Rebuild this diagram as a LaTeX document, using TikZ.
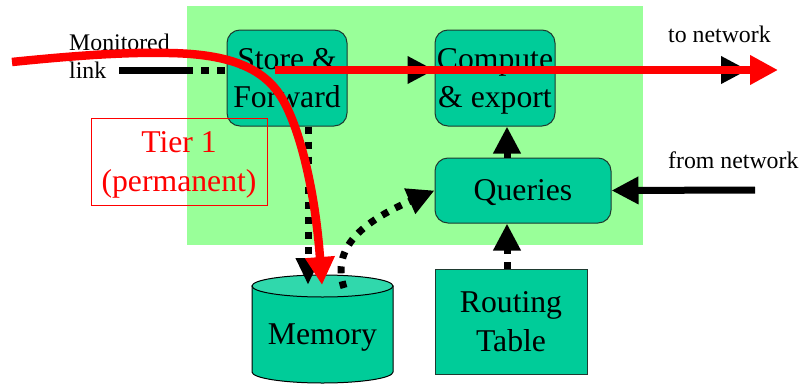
\documentclass[tikz,border=0pt]{standalone}
\usepackage{fontspec}
\setmainfont{Liberation Serif}
\newfontfamily\timesfam{Liberation Serif}
\usetikzlibrary{arrows.meta}
\definecolor{bggreen}{HTML}{99FF99}
\definecolor{boxgreen}{HTML}{00CC99}
\definecolor{topgreen}{HTML}{30D8AC}
\definecolor{boxline}{HTML}{1E3A30}
\begin{document}
\begin{tikzpicture}[x=1pt,y=-1pt,
  box/.style={draw=boxline, line width=1pt, fill=boxgreen, rounded corners=13pt,
    align=center, font=\timesfam\fontsize{31.7}{38.5}\selectfont, inner sep=0pt, text depth=0pt},
  lbl/.style={font=\timesfam\fontsize{23.8}{28}\selectfont, anchor=base west, inner sep=0pt},
  bigtext/.style={font=\timesfam\fontsize{31.7}{38.5}\selectfont, inner sep=0pt, align=center},
  dotline/.style={line width=7pt, dash pattern=on 7pt off 8pt},
  solidline/.style={line width=7pt},
  redline/.style={line width=8.5pt, draw=red},
  btip/.style={-{Triangle[length=27pt,width=26pt]}},
  rtip/.style={-{Triangle[length=28pt,width=28pt]}}]
\useasboundingbox (0,0) rectangle (803,383);
% background region
\fill[bggreen] (187,6) rectangle (643,245);
% boxes
\node[box, minimum width=120pt, minimum height=96pt] (store) at (287,78) {Store \&\\Forward};
\node[box, minimum width=120pt, minimum height=96pt] (compute) at (495,78) {Compute\\\& export};
\node[box, minimum width=176pt, minimum height=65pt] (queries) at (523,190.5) {Queries};
\node[box, sharp corners, minimum width=152pt, minimum height=105pt] (routing) at (511,321.5) {Routing\\Table};
% memory cylinder
\filldraw[fill=boxgreen, draw=black, line width=1pt]
  (252,286) -- (252,372) arc[start angle=180, end angle=360, x radius=70.5pt, y radius=11pt] -- (393,286) -- cycle;
\filldraw[fill=topgreen, draw=black, line width=1pt] (322.5,286) ellipse [x radius=70.5pt, y radius=11pt];
\node[bigtext, anchor=base] (memory) at (322.5,344) {Memory};
% tier box
\node[draw=red, line width=0.8pt, minimum width=176pt, minimum height=87pt, inner sep=0pt] (tier) at (179,161.5) {};
\node[bigtext, text=red] (tiertext) at (179,165) {Tier 1\\(permanent)};
% labels
\node[lbl] (monitored) at (69,50) {Monitored};
\node[lbl] (link) at (69,78) {link};
\node[lbl] (tonetlbl) at (668,42) {to network};
\node[lbl] (fromnetlbl) at (668,168) {from network};
% coordinates
\coordinate (linkstart) at (119,70);
\coordinate (linkgap) at (193,70);
\coordinate (tonet) at (748,70);
\coordinate (redstart) at (275,70);
\coordinate (redend) at (778,70);
\coordinate (redcurve) at (12,62);
\coordinate (memred) at (322,285);
\coordinate (memin) at (308,285);
\coordinate (memout) at (344,288);
\coordinate (rq) at (507,0);
\coordinate (fromnet) at (755,190);
% black connectors
\draw[solidline] (linkstart) -- (linkgap);
\draw[line width=7pt, dash pattern=on 8pt off 8pt, dash phase=8pt] (linkgap) -- (linkgap -| store.west);
\draw[dotline, btip] (store.east |- linkgap) -- (compute.west |- linkgap);
\draw[solidline, btip] (compute.east |- tonet) -- (tonet);
\draw[dotline, -{Triangle[length=27pt,width=23pt]}] (store.south -| memin) -- (memin);
\draw[dotline, btip] (memout) .. controls (331,248) and (362,222) .. (queries.west);
\draw[dotline, btip] (routing.north -| rq) -- (queries.south -| rq);
\draw[solidline, btip] (queries.north -| rq) -- (compute.south -| rq);
\draw[solidline, btip] (fromnet) -- (queries.east);
% red path
\draw[redline, rtip] (redstart) -- (redend);
\draw[redline, rtip] (redcurve) .. controls (80,55) and (130,52) .. (169,53)
  .. controls (230,54) and (265,68) .. (283,100)
  .. controls (300,130) and (315,190) .. (memred);
\end{tikzpicture}
\end{document}
